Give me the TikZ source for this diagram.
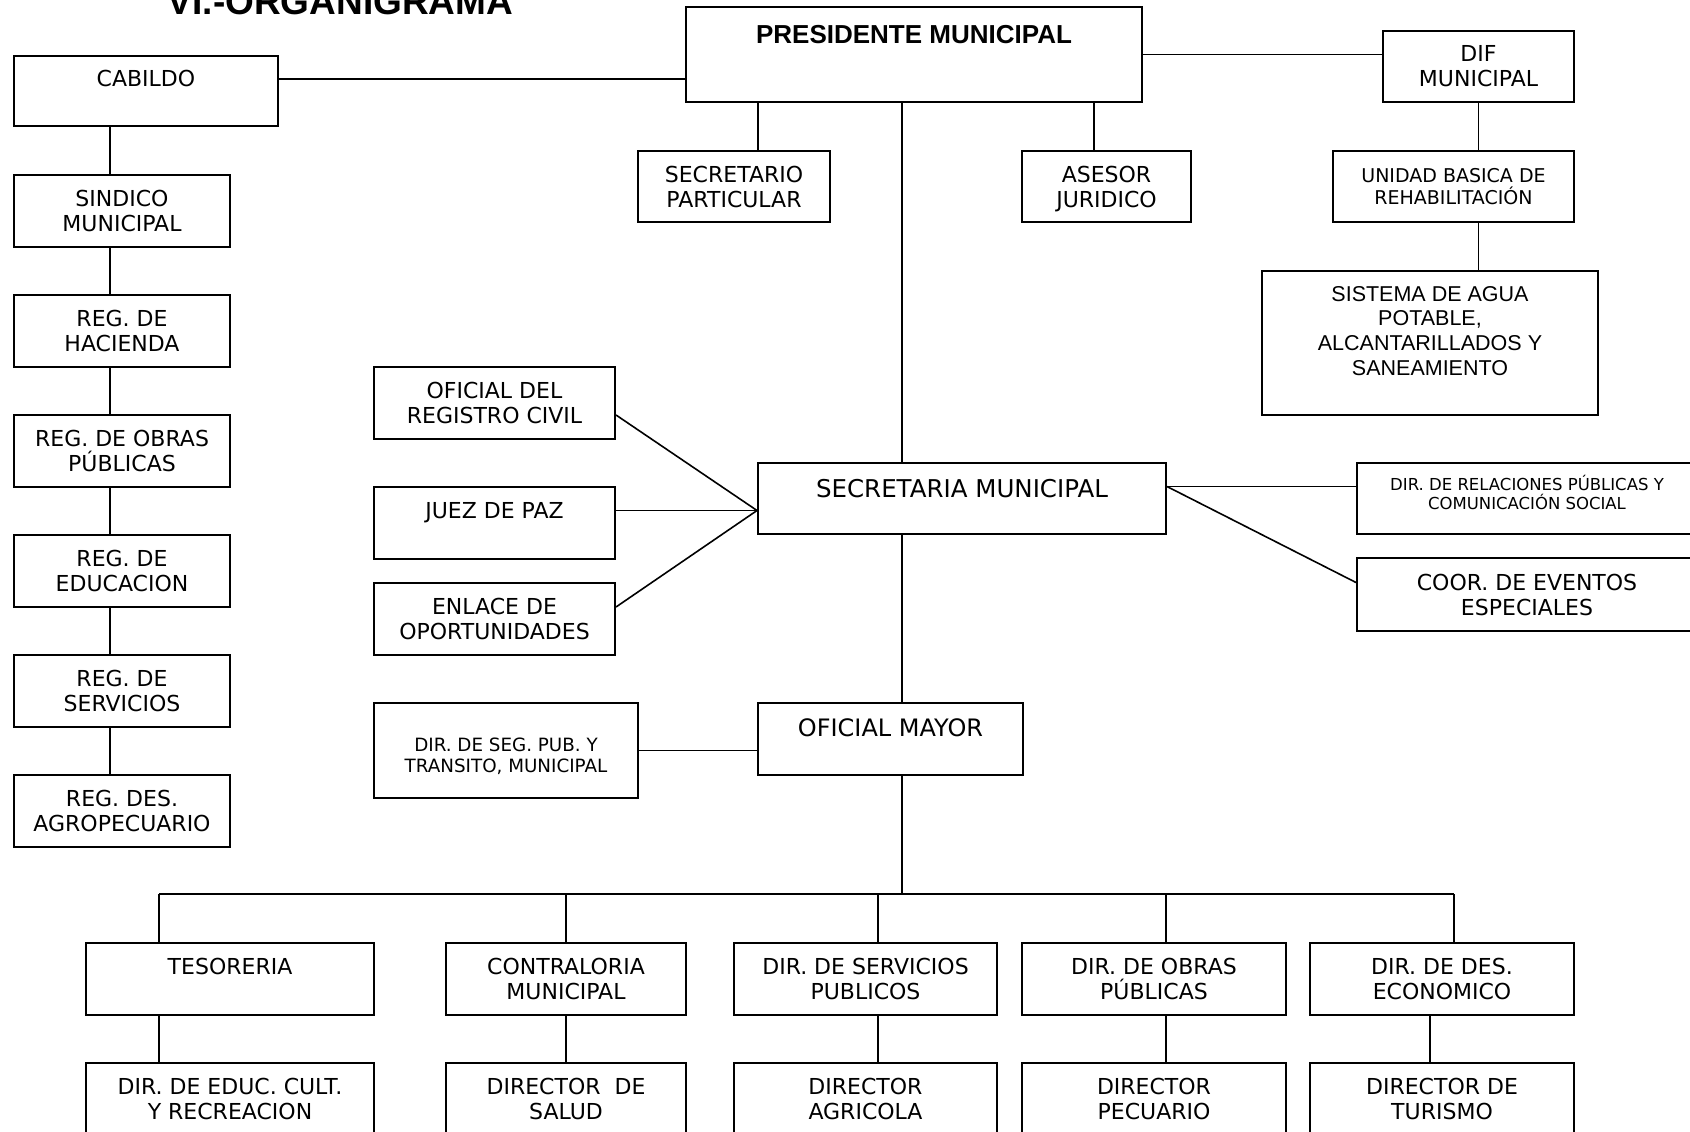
\documentclass[tikz,border=0pt]{standalone}
\usepackage{fontspec}
\setmainfont{DejaVu Sans}
\newfontfamily\arialfont{Liberation Sans}
\begin{document}
\begin{tikzpicture}[x=1pt,y=-1pt,line width=1.6pt,
    box/.style 2 args={draw,line width=2pt,inner sep=0pt,align=center,
      minimum width=#1,minimum height=#2,font=\fontsize{22}{25}\selectfont}]
  \useasboundingbox (0,0) rectangle (1690,1132);
  \clip (0,0) rectangle (1690,1132);
  \node[anchor=base west,inner sep=0pt,font=\arialfont\bfseries\fontsize{37}{40}\selectfont] (title) at (167,15) {VI.-ORGANIGRAMA};
  % top row
  \node[box={264pt}{70pt}] (cab) at (146,91) {CABILDO\\~};
  \node[box={456pt}{95pt},font=\arialfont\bfseries\fontsize{26}{30}\selectfont] (pres) at (914,54.5) {PRESIDENTE MUNICIPAL\\[11pt]~};
  \node[box={191pt}{71pt}] (dif) at (1478.5,66.5) {DIF\\MUNICIPAL};
  \node[box={192pt}{71pt}] (sp) at (734,186.5) {SECRETARIO\\PARTICULAR};
  \node[box={169pt}{71pt}] (ase) at (1106.5,186.5) {ASESOR\\\smash{JURIDICO}};
  \node[box={241pt}{71pt},font=\fontsize{19}{22}\selectfont] (ub) at (1453.5,186.5) {UNIDAD BASICA DE\\REHABILITACIÓN};
  \node[box={336pt}{144pt},font=\arialfont\fontsize{21.5}{24.7}\selectfont] (sis) at (1430,343) {SISTEMA DE AGUA\\POTABLE,\\ALCANTARILLADOS Y\\SANEAMIENTO\\~};
  % left column
  \node[box={216pt}{72pt}] (sin) at (122,211) {SINDICO\\MUNICIPAL};
  \node[box={216pt}{72pt}] (hac) at (122,331) {REG. DE\\HACIENDA};
  \node[box={216pt}{72pt}] (obr) at (122,451) {REG. DE OBRAS\\PÚBLICAS};
  \node[box={216pt}{72pt}] (edc) at (122,571) {REG. DE\\EDUCACION};
  \node[box={216pt}{72pt}] (ser) at (122,691) {REG. DE\\SERVICIOS};
  \node[box={216pt}{72pt}] (agr) at (122,811) {REG. DES.\\AGROPECUARIO};
  % middle
  \node[box={241pt}{72pt}] (reg) at (494.5,403) {OFICIAL DEL\\REGISTRO CIVIL};
  \node[box={241pt}{72pt}] (juez) at (494.5,523) {JUEZ DE PAZ\\~};
  \node[box={241pt}{72pt}] (enl) at (494.5,619) {ENLACE DE\\OPORTUNIDADES};
  \node[box={408pt}{71pt},font=\fontsize{24.5}{28}\selectfont] (sec) at (962,498.5) {SECRETARIA MUNICIPAL\\[-7pt]~};
  \node[box={340pt}{71pt},font=\fontsize{16.5}{18.5}\selectfont] (rel) at (1527,498.5) {DIR. DE RELACIONES PÚBLICAS Y\\COMUNICACIÓN SOCIAL\\[-6pt]~};
  \node[box={340pt}{73pt}] (coor) at (1527,594.5) {COOR. DE EVENTOS\\ESPECIALES};
  \node[box={264pt}{95pt},font=\fontsize{18.3}{21}\selectfont] (seg) at (506,750.5) {~\\[4pt]DIR. DE SEG. PUB. Y\\TRANSITO, MUNICIPAL};
  \node[box={265pt}{72pt},font=\fontsize{24}{28}\selectfont] (om) at (890.5,739) {OFICIAL MAYOR\\[-6pt]~};
  % bottom rows
  \node[box={288pt}{72pt}] (tes) at (230,979) {TESORERIA\\~};
  \node[box={240pt}{72pt}] (con) at (566,979) {CONTRALORIA\\MUNICIPAL};
  \node[box={263pt}{72pt}] (dsp) at (865.5,979) {DIR. DE SERVICIOS\\PUBLICOS};
  \node[box={264pt}{72pt}] (dop) at (1154,979) {DIR. DE OBRAS\\PÚBLICAS};
  \node[box={264pt}{72pt}] (dde) at (1442,979) {DIR. DE DES.\\ECONOMICO};
  \node[box={288pt}{72pt}] (edu) at (230,1099) {DIR. DE EDUC. CULT.\\Y RECREACION};
  \node[box={240pt}{72pt}] (sal) at (566,1099) {DIRECTOR~ DE\\SALUD};
  \node[box={263pt}{72pt}] (dag) at (865.5,1099) {DIRECTOR\\AGRICOLA};
  \node[box={264pt}{72pt}] (dpe) at (1154,1099) {DIRECTOR\\PECUARIO};
  \node[box={264pt}{72pt}] (dtu) at (1442,1099) {DIRECTOR DE\\TURISMO};
  % connectors
  \draw ([yshift=12pt]cab.east) -- ([yshift=12pt]cab.east -| pres.west);
  \draw (pres.east) -- (pres.east -| dif.west);
  \draw ([xshift=24pt]sp.north) -- ([xshift=24pt]sp.north |- pres.south);
  \draw ([xshift=-12.5pt]ase.north) -- ([xshift=-12.5pt]ase.north |- pres.south);
  \draw (dif.south) -- (dif.south |- ub.north);
  \draw (dif.south |- ub.south) -- (dif.south |- sis.north);
  \draw ([xshift=-36pt]cab.south) -- ([xshift=-12pt]sin.north);
  \draw ([xshift=-12pt]sin.south) -- ([xshift=-12pt]hac.north);
  \draw ([xshift=-12pt]hac.south) -- ([xshift=-12pt]obr.north);
  \draw ([xshift=-12pt]obr.south) -- ([xshift=-12pt]edc.north);
  \draw ([xshift=-12pt]edc.south) -- ([xshift=-12pt]ser.north);
  \draw ([xshift=-12pt]ser.south) -- ([xshift=-12pt]agr.north);
  \coordinate (hub) at (902,894);
  \draw (hub |- pres.south) -- (hub |- sec.north);
  \draw (hub |- sec.south) -- (hub |- om.north);
  \draw (hub |- om.south) -- (hub);
  \coordinate (lfan) at ([yshift=-12pt]sec.west);
  \draw ([yshift=-12pt]reg.east) -- (lfan);
  \draw (juez.east |- lfan) -- (lfan);
  \draw ([yshift=12pt]enl.east) -- (lfan);
  \coordinate (rfan) at ([yshift=12pt]sec.east);
  \draw (rfan) -- (rfan -| rel.west);
  \draw (rfan) -- ([yshift=12pt]coor.west);
  \draw (seg.east) -- (seg.east -| om.west);
  \coordinate (b1) at (159,894);
  \coordinate (b2) at (566,894);
  \coordinate (b3) at (878,894);
  \coordinate (b4) at (1166,894);
  \coordinate (b5) at (1454,894);
  \draw (b1) -- (b5);
  \draw (b1) -- (b1 |- tes.north);
  \draw (b2) -- (b2 |- con.north);
  \draw (b3) -- (b3 |- dsp.north);
  \draw (b4) -- (b4 |- dop.north);
  \draw (b5) -- (b5 |- dde.north);
  \draw (b1 |- tes.south) -- (b1 |- edu.north);
  \draw (b2 |- con.south) -- (b2 |- sal.north);
  \draw (b3 |- dsp.south) -- (b3 |- dag.north);
  \draw (b4 |- dop.south) -- (b4 |- dpe.north);
  \draw ([xshift=-12pt]dde.south) -- ([xshift=-12pt]dtu.north);
\end{tikzpicture}
\end{document}
